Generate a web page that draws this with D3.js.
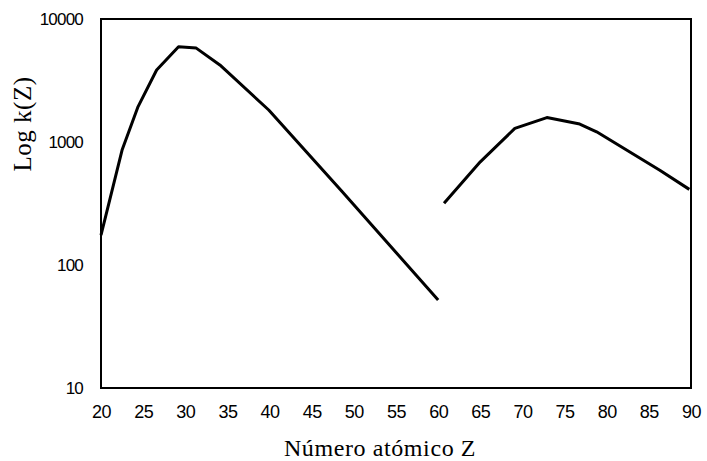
<!DOCTYPE html>
<html>
<head>
<meta charset="utf-8">
<script src="https://cdn.jsdelivr.net/npm/d3@7"></script>
<style>
  body { margin: 0; background: #fff; }
  .tick text { font-family: "Liberation Sans", Arial, sans-serif; fill: #000; }
  .title { font-family: "Liberation Serif", "Times New Roman", serif; fill: #000; }
</style>
</head>
<body>
<svg id="chart"></svg>
<script>
const width = 707;
const height = 461;

// curve 1: Z from 20 to 60
const z1 = [20, 22.5, 24.4, 26.6, 29.2, 31.3, 34.1, 39.9, 48.6, 60];
const k1 = [175, 860, 1940, 3850, 5950, 5800, 4230, 1820, 395, 52];

// curve 2: Z from 61 to 90
const z2 = [60.7, 65, 69.1, 72.9, 76.8, 78.8, 86.3, 89.8];
const k2 = [318, 690, 1290, 1580, 1400, 1210, 590, 412];

const xTicks = [20, 25, 30, 35, 40, 45, 50, 55, 60, 65, 70, 75, 80, 85, 90];
const yTicks = [10, 100, 1000, 10000];

const margin = { top: 19, right: 16, bottom: 73, left: 101 };

const x = d3.scaleLinear()
  .domain([20, 90])
  .range([margin.left, width - margin.right]);

const y = d3.scaleLog()
  .domain([10, 10000])
  .range([height - margin.bottom, margin.top]);

const svg = d3.select("#chart")
  .attr("width", width)
  .attr("height", height);

// x axis
svg.append("g")
  .attr("transform", `translate(0,${height - margin.bottom})`)
  .call(d3.axisBottom(x).tickValues(xTicks).tickSize(0).tickPadding(17))
  .call(g => g.select(".domain").remove())
  .selectAll("text")
  .style("font-size", "18px")
  .style("letter-spacing", "-0.5px");

// y axis
svg.append("g")
  .attr("transform", `translate(${margin.left},0)`)
  .call(d3.axisLeft(y).tickValues(yTicks).tickFormat(d3.format("d")).tickSize(0).tickPadding(18))
  .call(g => g.select(".domain").remove())
  .selectAll("text")
  .style("font-size", "17px")
  .style("letter-spacing", "-0.8px");

// frame
svg.append("rect")
  .attr("x", x(20))
  .attr("y", y(10000))
  .attr("width", x(90) - x(20))
  .attr("height", y(10) - y(10000))
  .attr("fill", "none")
  .attr("stroke", "#000")
  .attr("stroke-width", 2);

const line = d3.line()
  .x(d => x(d[0]))
  .y(d => y(d[1]));

[[z1, k1], [z2, k2]].forEach(([zs, ks]) => {
  svg.append("path")
    .datum(zs.map((z, i) => [z, ks[i]]))
    .attr("d", line)
    .attr("fill", "none")
    .attr("stroke", "#000")
    .attr("stroke-width", 3)
    .attr("stroke-linejoin", "round");
});

// axis titles
svg.append("text")
  .attr("class", "title")
  .attr("x", 380)
  .attr("y", 456)
  .attr("text-anchor", "middle")
  .style("font-size", "24px")
  .style("letter-spacing", "0.6px")
  .text("Número atómico Z");

svg.append("text")
  .attr("class", "title")
  .attr("transform", "translate(31,124) rotate(-90)")
  .attr("text-anchor", "middle")
  .style("font-size", "25px")
  .style("letter-spacing", "0.5px")
  .text("Log k(Z)");
</script>
</body>
</html>
